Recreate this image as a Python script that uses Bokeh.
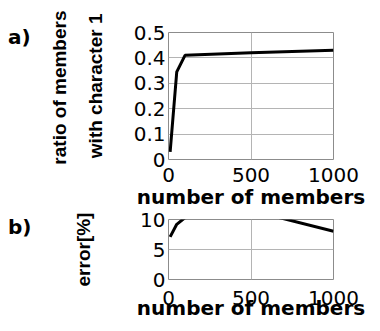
from bokeh.plotting import figure
from bokeh.models import FixedTicker, Range1d, Title, Div
from bokeh.layouts import column, row
from bokeh.embed import file_html
from bokeh.resources import INLINE

# data
members = [10, 50, 100, 500, 1000]
ratio = [0.03, 0.345, 0.41, 0.42, 0.43]
error_pct = [7.1, 9.2, 10.3, 11.5, 8.05]

x_ticks = [0, 500, 1000]
ratio_ticks = [0, 0.1, 0.2, 0.3, 0.4, 0.5]
error_ticks = [0, 5, 10]

TICK_FONT = "DejaVu Sans"
LAB_FONT = "Liberation Sans"
DIV_W = 32
LEFT = 171 - DIV_W - 3
OVERLAP = 5


def style(p, yticks, tick_standoff, label_standoff):
    p.outline_line_color = "#8c8c8c"
    p.grid.grid_line_color = "#b4b4b4"
    p.grid.grid_line_width = 1
    p.xaxis.ticker = FixedTicker(ticks=x_ticks)
    p.yaxis.ticker = FixedTicker(ticks=yticks)
    for ax in p.xaxis + p.yaxis:
        ax.axis_line_color = None
        ax.major_tick_line_color = None
        ax.minor_tick_line_color = None
        ax.major_tick_out = 0
        ax.major_tick_in = 0
        ax.major_label_text_font = TICK_FONT
        ax.major_label_text_font_size = "20px"
        ax.major_label_text_color = "black"
    p.yaxis.major_label_standoff = 3
    p.xaxis.major_label_standoff = tick_standoff
    p.xaxis.axis_label = "number of members"
    p.xaxis.axis_label_text_font = "DejaVu Sans"
    p.xaxis.axis_label_text_font_style = "bold"
    p.xaxis.axis_label_text_font_size = "20px"
    p.xaxis.axis_label_text_color = "black"
    p.xaxis.axis_label_standoff = label_standoff
    p.yaxis.major_label_overrides = {0: "0"}


def side_title(p, text, standoff, offset):
    p.add_layout(Title(text=text, align="right", standoff=standoff, offset=offset,
                       text_font=LAB_FONT, text_font_style="bold",
                       text_font_size="19px", text_color="black"), "left")


def tag(text, top):
    return Div(text=text, width=DIV_W, margin=0,
               styles={"font-family": "DejaVu Sans", "font-weight": "bold",
                       "font-size": "20px", "color": "black",
                       "padding-left": "8px", "padding-top": f"{top}px",
                       "line-height": "normal", "white-space": "nowrap"})


p1 = figure(frame_width=165, frame_height=127, x_range=Range1d(0, 1000),
            y_range=Range1d(0, 0.5), output_backend="svg", toolbar_location=None,
            min_border_left=LEFT, min_border_top=32, min_border_right=36,
            min_border_bottom=0)
style(p1, ratio_ticks, 8, 0)
p1.line(members, ratio, line_color="black", line_width=3)
side_title(p1, "with character 1", 50, -19)
side_title(p1, "ratio of members", -24, -22)

p2 = figure(frame_width=165, frame_height=60, x_range=Range1d(0, 1000),
            y_range=Range1d(0, 10), output_backend="svg", toolbar_location=None,
            min_border_left=LEFT, min_border_top=8 + OVERLAP, min_border_right=36,
            min_border_bottom=0)
style(p2, error_ticks, 11, -12)
p2.yaxis.axis_label = "error[%]"
p2.yaxis.axis_label_text_font = LAB_FONT
p2.yaxis.axis_label_text_font_style = "bold"
p2.yaxis.axis_label_text_font_size = "19px"
p2.yaxis.axis_label_text_color = "black"
p2.yaxis.axis_label_standoff = 43
p2.line(members, error_pct, line_color="black", line_width=3)

layout = column(row(tag("a)", 25), p1, spacing=0),
                row(tag("b)", 4 + OVERLAP), p2, spacing=0, margin=(-OVERLAP, 0, 0, 0)),
                spacing=0)
open("out.html", "w").write(file_html(layout, INLINE))
